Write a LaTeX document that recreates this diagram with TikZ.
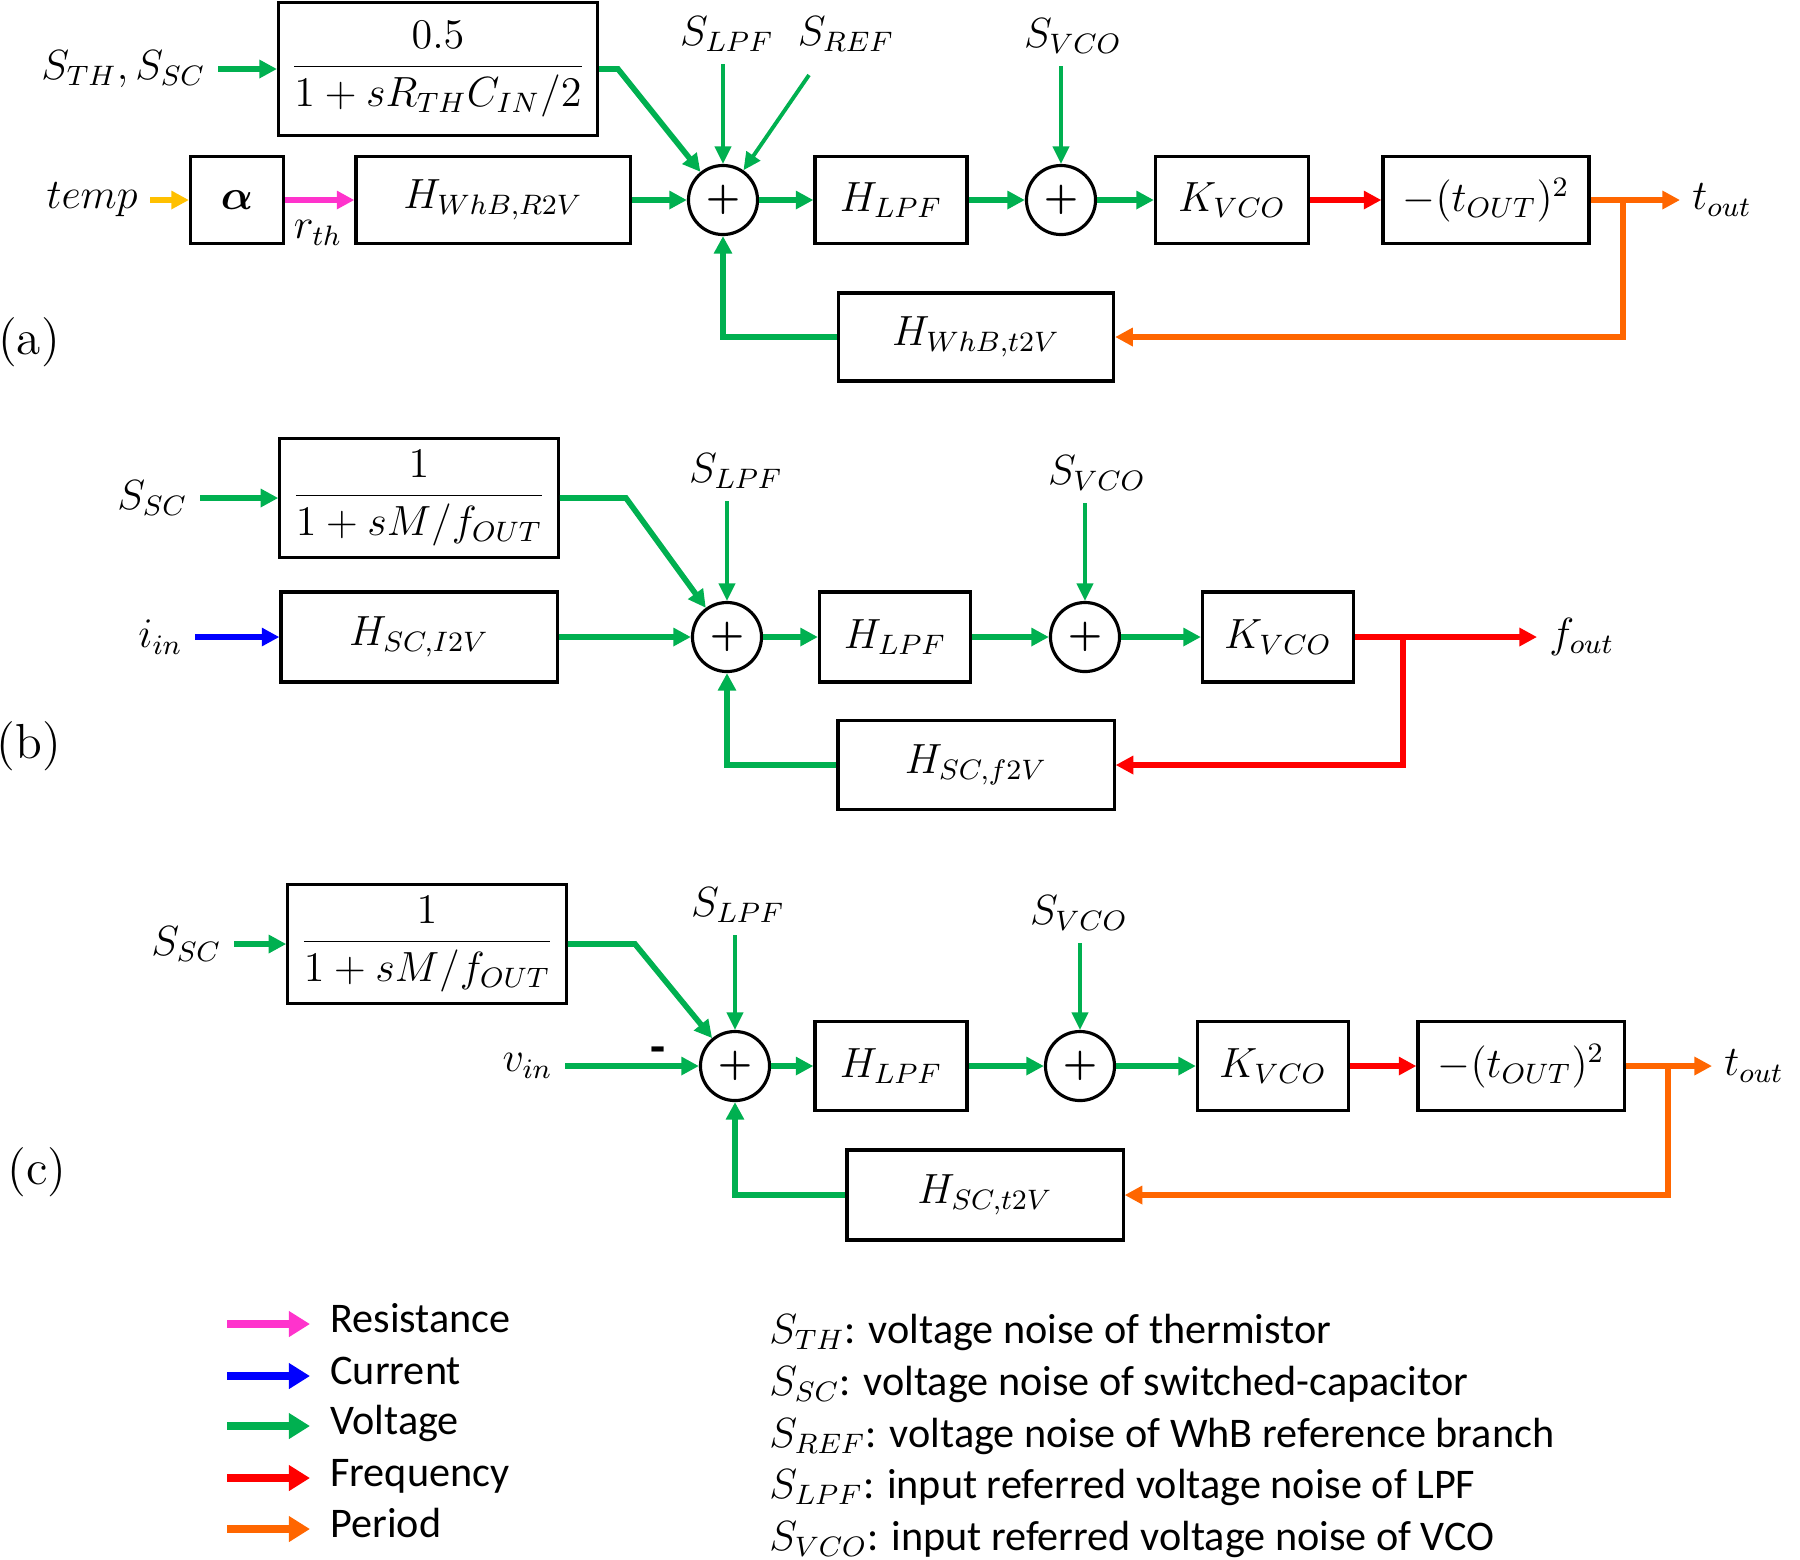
\documentclass[tikz,border=0pt]{standalone}
\usepackage{amsmath}
\usepackage{fontspec}
\setsansfont{Carlito}
\usetikzlibrary{arrows.meta, positioning}

\definecolor{vgreen}{RGB}{0,176,80}
\definecolor{iblue}{RGB}{0,0,255}
\definecolor{fred}{RGB}{255,0,0}
\definecolor{torange}{RGB}{255,102,0}
\definecolor{rpink}{RGB}{255,51,204}
\definecolor{tyellow}{RGB}{255,192,0}

\begin{document}
\begin{tikzpicture}[
    x=0.01cm, y=-0.01cm, % one unit is one pixel of the sketch, y downwards
    font=\fontsize{12}{14}\selectfont,
    % Define block style
    block/.style={
        draw, % Draw border
        line width=0.9pt, % Border width
        minimum height=0.88cm, % Minimum height
        align=center % Center alignment
      },
    % Define summing junction style
    sum/.style={draw, circle, line width=0.9pt, minimum size=0.69cm, inner sep=0pt, font=\fontsize{11}{13}\selectfont},
    % Define signal styles
    wire/.style={line width=1.6pt, -{Triangle[length=5pt, width=5pt]}},
    noise/.style={line width=1.1pt, -{Triangle[length=5pt, width=4.6pt]}},
    legendarrow/.style={line width=2.2pt, -{Triangle[length=6pt, width=7pt]}},
    note/.style={anchor=west, font=\fontsize{12}{14}\selectfont\sffamily, text height=1.6ex, text depth=0.5ex},
    panel/.style={font=\fontsize{14}{16}\selectfont}
  ]
  \useasboundingbox (0,0) rectangle (1800,1559);

  % ---------------- (a) ----------------
  \node[block, minimum width=3.08cm, minimum height=1.33cm] (fracA) at (438,69) {$\dfrac{0.5}{1+sR_{TH}C_{IN}/2}$};
  \node[anchor=east] (sA) at (218,69) {$S_{TH},S_{SC}$};
  \node[anchor=east] (tempA) at (150,200) {$temp$};
  \node[block, minimum width=0.93cm, minimum height=0.87cm] (alphaA) at (237,200) {$\boldsymbol{\alpha}$};
  \node (rthA) at (318,233) {$r_{th}$};
  \node[block, minimum width=2.74cm, minimum height=0.87cm] (hrA) at (493,200) {$H_{WhB,R2V}$};
  \node[sum] (sumA1) at (723,200) {$\boldsymbol{+}$};
  \node[block, minimum width=1.52cm, minimum height=0.87cm] (lpfA) at (891,200) {$H_{LPF}$};
  \node[sum] (sumA2) at (1061,200) {$\boldsymbol{+}$};
  \node[block, minimum width=1.53cm, minimum height=0.87cm] (kA) at (1232,200) {$K_{VCO}$};
  \node[block, minimum width=2.06cm, minimum height=0.87cm] (sqA) at (1486,200) {$-(t_{OUT})^2$};
  \node[anchor=west] (outA) at (1680,200) {$t_{out}$};
  \node[block, minimum width=2.75cm] (fbA) at (976,337) {$H_{WhB,t2V}$};
  \node (slpfA) at (727,34) {$S_{LPF}$};
  \node (srefA) at (846,34) {$S_{REF}$};
  \node (svcoA) at (1073,36) {$S_{VCO}$};
  \node[panel] (labA) at (29,342) {(a)};
  \coordinate (cA) at (618,69);
  \coordinate (refA) at (809,75);
  \coordinate (brA) at (1623,200);

  \draw[wire, vgreen] (sA.east) -- (fracA.west);
  \draw[wire, vgreen] (fracA.east) -- (cA) -- (sumA1);
  \draw[wire, tyellow] (tempA) -- (alphaA);
  \draw[wire, rpink] (alphaA) -- (hrA);
  \draw[wire, vgreen] (hrA) -- (sumA1);
  \draw[wire, vgreen] (sumA1) -- (lpfA);
  \draw[wire, vgreen] (lpfA) -- (sumA2);
  \draw[wire, vgreen] (sumA2) -- (kA);
  \draw[wire, fred] (kA) -- (sqA);
  \draw[wire, torange] (sqA) -- (outA);
  \draw[noise, vgreen] (slpfA.south -| sumA1) -- (sumA1);
  \draw[noise, vgreen] (refA) -- (sumA1);
  \draw[noise, vgreen] (svcoA.south -| sumA2) -- (sumA2);
  \draw[wire, torange] (brA) |- (fbA);
  \draw[wire, vgreen] (fbA) -| (sumA1);

  % ---------------- (b) ----------------
  \node[block, minimum width=2.76cm, minimum height=1.15cm] (fracB) at (419,498) {$\dfrac{1}{1+sM/f_{OUT}}$};
  \node[anchor=east] (sB) at (200,498) {$S_{SC}$};
  \node[anchor=east] (inB) at (195,637) {$i_{in}$};
  \node[block, minimum width=2.76cm, minimum height=0.9cm] (hiB) at (419,637) {$H_{SC,I2V}$};
  \node[sum] (sumB1) at (727,637) {$\boldsymbol{+}$};
  \node[block, minimum width=1.51cm, minimum height=0.9cm] (lpfB) at (895,637) {$H_{LPF}$};
  \node[sum] (sumB2) at (1085,637) {$\boldsymbol{+}$};
  \node[block, minimum width=1.51cm, minimum height=0.9cm] (kB) at (1278,637) {$K_{VCO}$};
  \node[anchor=west] (outB) at (1537,637) {$f_{out}$};
  \node[block, minimum width=2.76cm, minimum height=0.89cm] (fbB) at (976,765) {$H_{SC,f2V}$};
  \node (slpfB) at (736,471) {$S_{LPF}$};
  \node (svcoB) at (1097,473) {$S_{VCO}$};
  \node[panel] (labB) at (29,746) {(b)};
  \coordinate (cB) at (626,498);
  \coordinate (brB) at (1403,637);

  \draw[wire, vgreen] (sB) -- (fracB);
  \draw[wire, vgreen] (fracB.east) -- (cB) -- (sumB1);
  \draw[wire, iblue] (inB) -- (hiB);
  \draw[wire, vgreen] (hiB) -- (sumB1);
  \draw[wire, vgreen] (sumB1) -- (lpfB);
  \draw[wire, vgreen] (lpfB) -- (sumB2);
  \draw[wire, vgreen] (sumB2) -- (kB);
  \draw[wire, fred] (kB) -- (outB);
  \draw[noise, vgreen] (slpfB.south -| sumB1) -- (sumB1);
  \draw[noise, vgreen] (svcoB.south -| sumB2) -- (sumB2);
  \draw[wire, fred] (brB) |- (fbB);
  \draw[wire, vgreen] (fbB) -| (sumB1);

  % ---------------- (c) ----------------
  \node[block, minimum width=2.76cm, minimum height=1.15cm] (fracC) at (427,944) {$\dfrac{1}{1+sM/f_{OUT}}$};
  \node[anchor=east] (sC) at (234,944) {$S_{SC}$};
  \node[anchor=east] (vinC) at (565,1066) {$v_{in}$};
  \node[font=\fontsize{14}{16}\selectfont\sffamily\bfseries] (minusC) at (658,1055) {-};
  \node[sum] (sumC1) at (735,1066) {$\boldsymbol{+}$};
  \node[block, minimum width=1.52cm, minimum height=0.89cm] (lpfC) at (891,1066) {$H_{LPF}$};
  \node[sum] (sumC2) at (1080,1066) {$\boldsymbol{+}$};
  \node[block, minimum width=1.51cm, minimum height=0.89cm] (kC) at (1273,1066) {$K_{VCO}$};
  \node[block, minimum width=2.06cm, minimum height=0.89cm] (sqC) at (1521,1066) {$-(t_{OUT})^2$};
  \node[anchor=west] (outC) at (1712,1066) {$t_{out}$};
  \node[block, minimum width=2.76cm, minimum height=0.9cm] (fbC) at (985,1195) {$H_{SC,t2V}$};
  \node (slpfC) at (738,905) {$S_{LPF}$};
  \node (svcoC) at (1079,913) {$S_{VCO}$};
  \node[panel] (labC) at (37,1172) {(c)};
  \coordinate (cC) at (635,944);
  \coordinate (brC) at (1668,1066);

  \draw[wire, vgreen] (sC) -- (fracC);
  \draw[wire, vgreen] (fracC.east) -- (cC) -- (sumC1);
  \draw[wire, vgreen] (vinC) -- (sumC1);
  \draw[wire, vgreen] (sumC1) -- (lpfC);
  \draw[wire, vgreen] (lpfC) -- (sumC2);
  \draw[wire, vgreen] (sumC2) -- (kC);
  \draw[wire, fred] (kC) -- (sqC);
  \draw[wire, torange] (sqC) -- (outC);
  \draw[noise, vgreen] (slpfC.south -| sumC1) -- (sumC1);
  \draw[noise, vgreen] (svcoC.south -| sumC2) -- (sumC2);
  \draw[wire, torange] (brC) |- (fbC);
  \draw[wire, vgreen] (fbC) -| (sumC1);

  % ---------------- legend ----------------
  \coordinate (lgR) at (227,1324);
  \coordinate (lgI) at (227,1376);
  \coordinate (lgV) at (227,1426);
  \coordinate (lgF) at (227,1478);
  \coordinate (lgP) at (227,1529);
  \node[note] (lgRt) at (318,1324) {Resistance};
  \node[note] (lgIt) at (318,1376) {Current};
  \node[note] (lgVt) at (318,1426) {Voltage};
  \node[note] (lgFt) at (318,1478) {Frequency};
  \node[note] (lgPt) at (318,1529) {Period};
  \draw[legendarrow, rpink] (lgR) -- ([xshift=-0.08cm]lgRt.west);
  \draw[legendarrow, iblue] (lgI) -- ([xshift=-0.08cm]lgIt.west);
  \draw[legendarrow, vgreen] (lgV) -- ([xshift=-0.08cm]lgVt.west);
  \draw[legendarrow, fred] (lgF) -- ([xshift=-0.08cm]lgFt.west);
  \draw[legendarrow, torange] (lgP) -- ([xshift=-0.08cm]lgPt.west);

  \node[note] (nTH) at (757,1335) {$S_{TH}$: voltage noise of thermistor};
  \node[note] (nSC) at (757,1387) {$S_{SC}$: voltage noise of switched-capacitor};
  \node[note] (nREF) at (757,1439) {$S_{REF}$: voltage noise of WhB reference branch};
  \node[note] (nLPF) at (757,1490) {$S_{LPF}$: input referred voltage noise of LPF};
  \node[note] (nVCO) at (757,1542) {$S_{VCO}$: input referred voltage noise of VCO};

\end{tikzpicture}
\end{document}
